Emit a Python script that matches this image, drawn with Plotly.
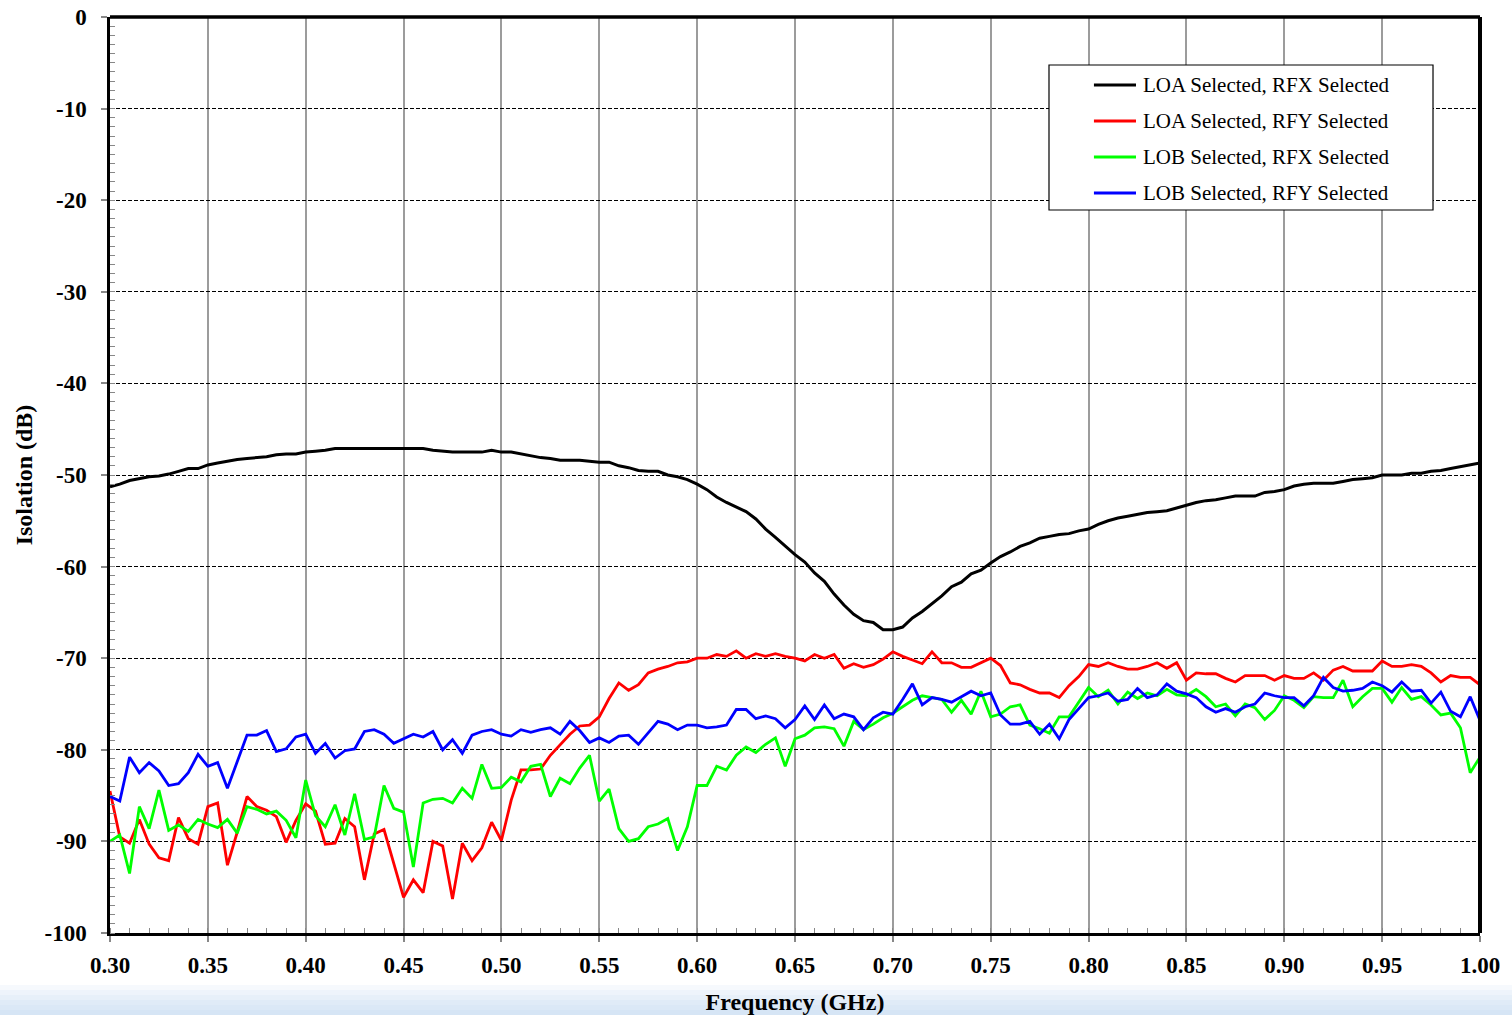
import plotly.graph_objects as go

# Frequency sweep: 0.300 GHz to 1.000 GHz in 5 MHz steps (141 points)
FREQ_START_GHZ = 0.300
FREQ_STEP_GHZ = 0.005
N_POINTS = 141
freq_ghz = [round(FREQ_START_GHZ + FREQ_STEP_GHZ * i, 3) for i in range(N_POINTS)]

series_names = [
    "LOA Selected, RFX Selected",
    "LOA Selected, RFY Selected",
    "LOB Selected, RFX Selected",
    "LOB Selected, RFY Selected",
]

# Isolation (dB) for each path
loa_rfx = [
    -51.3, -51.0, -50.6, -50.4, -50.2, -50.1, -49.9, -49.6, -49.3, -49.3,
    -48.9, -48.7, -48.5, -48.3, -48.2, -48.1, -48.0, -47.8, -47.7, -47.7,
    -47.5, -47.4, -47.3, -47.1, -47.1, -47.1, -47.1, -47.1, -47.1, -47.1,
    -47.1, -47.1, -47.1, -47.3, -47.4, -47.5, -47.5, -47.5, -47.5, -47.3,
    -47.5, -47.5, -47.7, -47.9, -48.1, -48.2, -48.4, -48.4, -48.4, -48.5,
    -48.6, -48.6, -49.0, -49.2, -49.5, -49.6, -49.6, -50.0, -50.2, -50.5,
    -51.0, -51.6, -52.4, -53.0, -53.5, -54.0, -54.8, -55.9, -56.8, -57.8,
    -58.7, -59.5, -60.7, -61.6, -63.0, -64.2, -65.2, -65.9, -66.1, -66.9,
    -66.9, -66.6, -65.6, -64.9, -64.1, -63.2, -62.2, -61.7, -60.8, -60.4,
    -59.6, -58.9, -58.4, -57.8, -57.4, -56.9, -56.7, -56.5, -56.4, -56.1,
    -55.9, -55.4, -55.0, -54.7, -54.5, -54.3, -54.1, -54.0, -53.9, -53.6,
    -53.3, -53.0, -52.8, -52.7, -52.5, -52.3, -52.3, -52.3, -51.9, -51.8,
    -51.6, -51.2, -51.0, -50.9, -50.9, -50.9, -50.7, -50.5, -50.4, -50.3,
    -50.0, -50.0, -50.0, -49.8, -49.8, -49.6, -49.5, -49.3, -49.1, -48.9,
    -48.7,
]

loa_rfy = [
    -84.5, -89.5, -90.2, -87.6, -90.3, -91.8, -92.1, -87.4, -89.7, -90.3,
    -86.2, -85.8, -92.6, -89.0, -85.1, -86.2, -86.6, -87.3, -90.1, -87.7,
    -85.9, -86.7, -90.3, -90.2, -87.5, -88.4, -94.2, -89.2, -88.7, -92.5,
    -96.1, -94.2, -95.6, -90.0, -90.5, -96.3, -90.2, -92.1, -90.7, -87.9,
    -89.9, -85.5, -82.2, -82.2, -82.1, -80.6, -79.5, -78.3, -77.4, -77.3,
    -76.4, -74.4, -72.7, -73.5, -72.9, -71.6, -71.2, -70.9, -70.5, -70.4,
    -70.0, -70.0, -69.6, -69.8, -69.2, -70.0, -69.5, -69.8, -69.5, -69.8,
    -70.0, -70.3, -69.6, -70.0, -69.6, -71.1, -70.6, -71.0, -70.7, -70.1,
    -69.3, -69.8, -70.2, -70.6, -69.3, -70.5, -70.5, -71.0, -71.0, -70.5,
    -70.0, -70.8, -72.7, -72.9, -73.4, -73.8, -73.8, -74.3, -73.0, -72.0,
    -70.7, -70.9, -70.5, -70.9, -71.2, -71.2, -70.9, -70.5, -71.1, -70.5,
    -72.4, -71.6, -71.7, -71.7, -72.2, -72.6, -71.9, -71.9, -71.9, -72.4,
    -71.9, -72.2, -72.2, -71.6, -72.4, -71.3, -70.9, -71.4, -71.4, -71.4,
    -70.3, -70.9, -70.9, -70.7, -70.9, -71.6, -72.6, -71.9, -72.1, -72.1,
    -72.9,
]

lob_rfx = [
    -90.0, -89.3, -93.5, -86.2, -88.6, -84.4, -88.8, -88.2, -88.9, -87.6,
    -88.1, -88.5, -87.6, -89.1, -86.2, -86.5, -87.0, -86.7, -87.7, -89.6,
    -83.3, -87.2, -88.4, -86.0, -89.3, -84.8, -89.8, -89.5, -83.9, -86.4,
    -86.8, -92.8, -85.8, -85.4, -85.3, -85.8, -84.2, -85.3, -81.6, -84.2,
    -84.1, -83.0, -83.5, -81.8, -81.6, -85.1, -83.1, -83.7, -82.0, -80.6,
    -85.6, -84.3, -88.6, -90.0, -89.7, -88.4, -88.1, -87.5, -91.0, -88.4,
    -83.9, -83.9, -81.8, -82.2, -80.6, -79.7, -80.3, -79.4, -78.7, -81.8,
    -78.8, -78.4, -77.6, -77.5, -77.7, -79.6, -76.9, -77.8, -77.2, -76.5,
    -76.0, -75.3, -74.6, -74.1, -74.3, -74.5, -75.9, -74.6, -76.1, -73.6,
    -76.4, -76.1, -75.3, -75.1, -77.3, -77.7, -78.2, -76.4, -76.4, -74.8,
    -73.2, -74.2, -73.5, -75.0, -73.7, -74.4, -73.8, -74.1, -73.4, -74.0,
    -74.1, -73.4, -74.2, -75.3, -75.0, -76.3, -75.0, -75.4, -76.7, -75.7,
    -74.1, -74.6, -75.4, -74.2, -74.3, -74.3, -72.4, -75.3, -74.2, -73.3,
    -73.3, -74.8, -73.2, -74.5, -74.2, -75.1, -76.2, -76.0, -77.6, -82.5,
    -80.8,
]

lob_rfy = [
    -85.1, -85.6, -80.8, -82.5, -81.4, -82.3, -83.9, -83.7, -82.5, -80.5,
    -81.8, -81.4, -84.2, -81.4, -78.4, -78.4, -77.9, -80.2, -79.9, -78.6,
    -78.3, -80.4, -79.3, -80.9, -80.1, -79.9, -78.0, -77.8, -78.3, -79.3,
    -78.8, -78.3, -78.6, -78.0, -80.0, -78.9, -80.4, -78.4, -78.0, -77.8,
    -78.3, -78.5, -77.8, -78.1, -77.8, -77.6, -78.3, -76.9, -77.9, -79.2,
    -78.7, -79.2, -78.5, -78.4, -79.4, -78.2, -76.9, -77.2, -77.8, -77.3,
    -77.3, -77.6, -77.5, -77.3, -75.6, -75.6, -76.6, -76.3, -76.6, -77.6,
    -76.7, -75.2, -76.7, -75.1, -76.6, -76.1, -76.4, -77.8, -76.5, -75.9,
    -76.1, -74.5, -72.8, -75.1, -74.3, -74.5, -74.8, -74.2, -73.6, -74.1,
    -73.8, -76.2, -77.2, -77.2, -76.9, -78.3, -77.2, -78.8, -76.7, -75.5,
    -74.3, -74.1, -73.8, -74.7, -74.5, -73.3, -74.3, -74.0, -72.8, -73.6,
    -73.9, -74.3, -75.3, -75.9, -75.5, -75.9, -75.3, -75.0, -73.8, -74.1,
    -74.3, -74.3, -75.2, -74.1, -72.1, -73.2, -73.6, -73.5, -73.3, -72.6,
    -73.0, -73.7, -72.6, -73.6, -73.5, -74.9, -73.7, -75.8, -76.4, -74.2,
    -76.8,
]

series_values = [loa_rfx, loa_rfy, lob_rfx, lob_rfy]
series_colors = ["#000000", "#ff0000", "#00ff00", "#0000ff"]
series_widths = [3, 2.8, 2.8, 2.8]

x_tick_vals = [0.30, 0.35, 0.40, 0.45, 0.50, 0.55, 0.60, 0.65,
               0.70, 0.75, 0.80, 0.85, 0.90, 0.95, 1.00]
y_tick_vals = [0, -10, -20, -30, -40, -50, -60, -70, -80, -90, -100]
y_tick_text = ["0", "-10", "-20", "-30", "-40", "-50", "-60", "-70", "-80", "-90", "-100"]

SERIF = "Liberation Serif"

fig = go.Figure()
for name, vals, color, width in zip(series_names, series_values,
                                    series_colors, series_widths):
    fig.add_trace(go.Scatter(
        x=freq_ghz, y=vals, name=name, mode="lines",
        line=dict(color=color, width=width),
        showlegend=False,
    ))

fig.update_layout(
    width=1512, height=1015,
    margin=dict(l=110, r=32, t=17, b=82),
    paper_bgcolor="white", plot_bgcolor="white",
    showlegend=False,
    font=dict(family=SERIF, color="black"),
)

fig.update_xaxes(
    range=[0.30, 1.00], tickvals=x_tick_vals, tickformat=".2f",
    ticks="outside", ticklen=6, tickwidth=1.5, tickcolor="#888888",
    ticklabelstandoff=4,
    tickfont=dict(family=SERIF, size=23, color="black", weight="bold"),
    showgrid=True, gridcolor="#9c9c9c", gridwidth=1.6,
    showline=True, linecolor="black", linewidth=2.5,
    zeroline=False, automargin=False,
    minor=dict(ticks="inside", dtick=0.01, tick0=0.30, ticklen=5,
               tickwidth=1.2, tickcolor="#888888", showgrid=False),
    title=dict(text="Frequency (GHz)", standoff=22,
               font=dict(family=SERIF, size=24, color="black", weight="bold")),
)

fig.update_yaxes(
    range=[-100, 0], tickvals=y_tick_vals, ticktext=y_tick_text,
    ticks="outside", ticklen=6, tickwidth=1.5, tickcolor="#888888",
    ticklabelstandoff=10,
    tickfont=dict(family=SERIF, size=23, color="black", weight="bold"),
    showgrid=True, gridcolor="black", gridwidth=1, griddash="4px,2px",
    showline=True, linecolor="black", linewidth=2.5,
    zeroline=False, automargin=False,
    minor=dict(ticks="inside", dtick=1, tick0=0, ticklen=5,
               tickwidth=1.2, tickcolor="#888888", showgrid=False),
    title=dict(text="Isolation (dB)", standoff=6,
               font=dict(family=SERIF, size=24, color="black", weight="bold")),
)

shapes = []
# heavier top and right frame edges
shapes.append(dict(type="line", xref="paper", yref="paper", x0=0, x1=1, y0=1, y1=1,
                   line=dict(color="black", width=3.5)))
shapes.append(dict(type="line", xref="paper", yref="paper", x0=1, x1=1, y0=0, y1=1,
                   line=dict(color="black", width=4)))

# light blue band along the bottom edge of the page
band_colors = ["#f6f9fd", "#eef4fb", "#e7f0f9", "#e0ebf7", "#dbe8f6", "#d6e5f5"]
band_top_px, band_bottom_px = 985, 1015
plot_bottom_px, plot_h_px = 933, 916
step = (band_bottom_px - band_top_px) / len(band_colors)
for i, c in enumerate(band_colors):
    top = band_top_px + i * step
    bot = top + step
    shapes.append(dict(type="rect", xref="paper", yref="paper", layer="below",
                       x0=-110 / 1370, x1=1 + 32 / 1370,
                       y0=(plot_bottom_px - bot) / plot_h_px,
                       y1=(plot_bottom_px - top) / plot_h_px,
                       line=dict(width=0), fillcolor=c))

# legend box with line samples and labels
leg_x0, leg_x1 = 0.6854, 0.9657
leg_y0, leg_y1 = 0.7893, 0.9476
shapes.append(dict(type="rect", xref="paper", yref="paper",
                   x0=leg_x0, x1=leg_x1, y0=leg_y0, y1=leg_y1,
                   line=dict(color="black", width=1.2), fillcolor="white"))
row_y = [0.9258, 0.8865, 0.8472, 0.8079]
annotations = []
for name, color, y in zip(series_names, series_colors, row_y):
    shapes.append(dict(type="line", xref="paper", yref="paper",
                       x0=0.7182, x1=0.7489, y0=y, y1=y,
                       line=dict(color=color, width=3)))
    annotations.append(dict(xref="paper", yref="paper", x=0.7526, y=y,
                            xanchor="left", yanchor="middle", showarrow=False,
                            text=name,
                            font=dict(family=SERIF, size=21, color="black")))

fig.update_layout(shapes=shapes, annotations=annotations)

fig.write_html("out.html")
